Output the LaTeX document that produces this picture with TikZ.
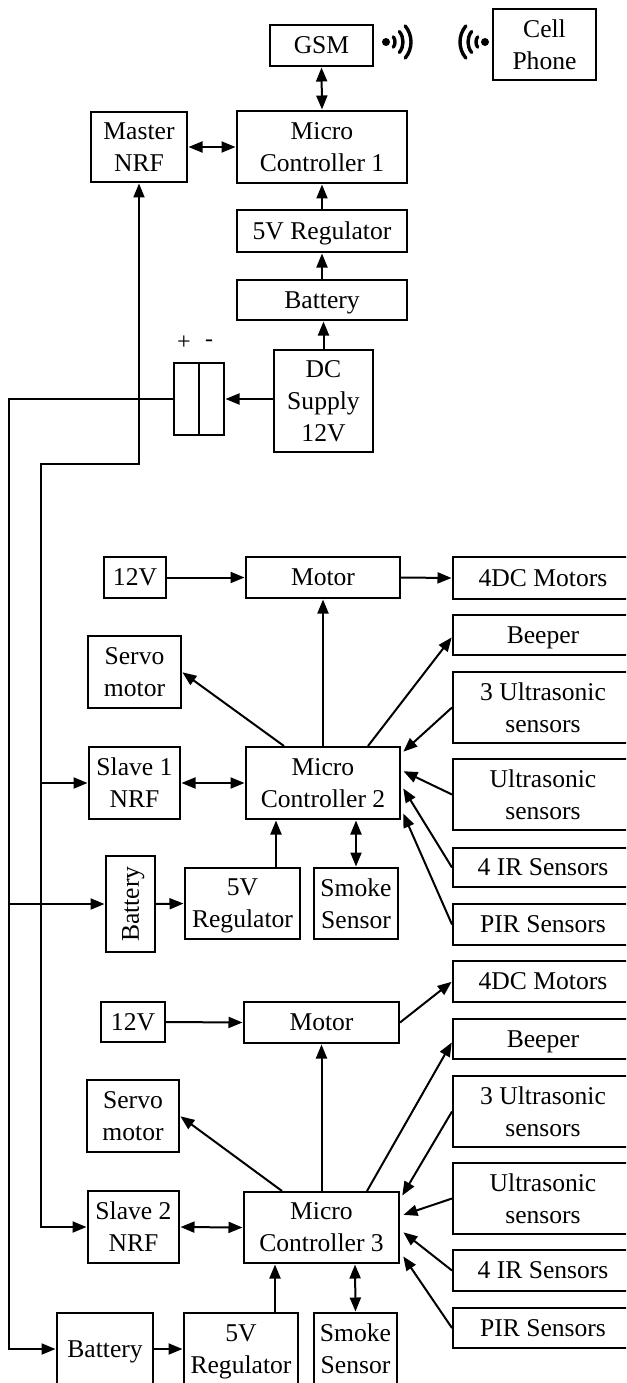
\documentclass[tikz,border=0pt]{standalone}
\usepackage{fontspec}
\setmainfont{Liberation Serif}
\usetikzlibrary{arrows.meta}

\begin{document}
\begin{tikzpicture}[
                x=1pt, y=-1pt,
                blockbox/.style={draw=black, line width=2pt, inner sep=0pt, align=center, text depth=0pt,
                    font=\fontsize{25.6}{32}\selectfont},
                sidebox/.style={blockbox, minimum width=180pt},
                wire/.style={line width=2pt},
                feed/.style={wire, -{Triangle[length=14pt, width=11pt]}, shorten >=0.5pt},
                link/.style={wire, {Triangle[length=14pt, width=11pt]}-{Triangle[length=14pt, width=11pt]}, shorten <=0.5pt, shorten >=0.5pt},
                wave/.style={line width=3.4pt, line cap=round},
                polarity/.style={font=\fontsize{24}{26}\selectfont, inner sep=0pt}
            ]
            \useasboundingbox (0, 0) rectangle (626, 1383);
            \clip (0, 0) rectangle (626, 1383);

            \node[blockbox, minimum width=103pt, minimum height=41pt] (gsm) at (321.5, 45.5) {GSM};
            \node[blockbox, minimum width=103pt, minimum height=71pt] (phone) at (544.5, 44.5) {Cell\\Phone};
            \node[blockbox, minimum width=96pt, minimum height=70pt] (master) at (139, 147) {Master\\NRF};
            \node[blockbox, minimum width=170pt, minimum height=72pt] (mcone) at (322, 147) {Micro\\Controller 1};
            \node[blockbox, minimum width=170pt, minimum height=42pt] (regone) at (322, 231) {5V Regulator};
            \node[blockbox, minimum width=170pt, minimum height=40pt] (batone) at (322, 300) {Battery};
            \node[blockbox, minimum width=99pt, minimum height=102pt] (dcsupply) at (323.5, 401) {DC\\Supply\\12V};
            \node[blockbox, minimum width=25pt, minimum height=72pt] (switchl) at (186.5, 399) {};
            \node[blockbox, minimum width=25pt, minimum height=72pt] (switchr) at (211.5, 399) {};
            \node[polarity] (plus) at (184, 343) {+};
            \node[polarity] (minus) at (209, 343) {-};

            \coordinate (wifil) at (386, 42);
            \coordinate (wifir) at (485, 42);
            \fill (wifil) circle (4pt);
            \fill (wifir) circle (4pt);
            \draw[wave] ([shift={(-35:9pt)}]wifil) arc (-35:35:9pt);
            \draw[wave] ([shift={(-38:17pt)}]wifil) arc (-38:38:17pt);
            \draw[wave] ([shift={(-40:25pt)}]wifil) arc (-40:40:25pt);
            \draw[wave] ([shift={(145:9pt)}]wifir) arc (145:215:9pt);
            \draw[wave] ([shift={(142:17pt)}]wifir) arc (142:218:17pt);
            \draw[wave] ([shift={(140:25pt)}]wifir) arc (140:220:25pt);

            \draw[link] (gsm.south) -- (mcone.north);
            \draw[link] (master.east) -- (mcone.west);
            \draw[feed] (regone.north) -- (mcone.south);
            \draw[feed] (batone.north) -- (regone.south);
            \draw[feed] (dcsupply.north) -- (dcsupply.north |- batone.south);
            \draw[feed] (dcsupply.west |- switchr.east) -- (switchr.east);

            \node[blockbox, minimum width=62pt, minimum height=41pt] (twelvetwo) at (135, 577.5) {12V};
            \node[blockbox, minimum width=154pt, minimum height=41pt] (motortwo) at (323, 577.5) {Motor};
            \node[blockbox, minimum width=93pt, minimum height=72pt] (servotwo) at (134.5, 672) {Servo\\motor};
            \node[blockbox, minimum width=91pt, minimum height=72pt] (slavetwo) at (134.5, 783) {Slave 1\\NRF};
            \node[blockbox, minimum width=154pt, minimum height=72pt] (mctwo) at (323, 783) {Micro\\Controller 2};
            \node[blockbox, rotate=90, minimum width=96pt, minimum height=49pt] (battwo) at (130.5, 904) {Battery};
            \node[blockbox, minimum width=115pt, minimum height=71pt] (regtwo) at (242.5, 903.5) {5V\\Regulator};
            \node[blockbox, minimum width=84pt, minimum height=71pt] (smoketwo) at (356, 903.5) {Smoke\\Sensor};
            \node[sidebox, minimum height=42pt] (dctwo) at (543, 578) {4DC Motors};
            \node[sidebox, minimum height=40pt] (beepertwo) at (543, 635) {Beeper};
            \node[sidebox, minimum height=71pt] (threetwo) at (543, 707.5) {3 Ultrasonic\\sensors};
            \node[sidebox, minimum height=71pt] (ultratwo) at (543, 794.5) {Ultrasonic\\sensors};
            \node[sidebox, minimum height=39pt] (irtwo) at (543, 867.5) {4 IR Sensors};
            \node[sidebox, minimum height=41pt] (pirtwo) at (543, 924.5) {PIR Sensors};

            \draw[feed] (twelvetwo.east) -- (motortwo.west);
            \draw[feed] (motortwo.east) -- (dctwo.west);
            \draw[feed] (mctwo.north) -- (motortwo.south);
            \draw[feed] ([xshift=-39pt]mctwo.north) -- (servotwo.east);
            \draw[feed] ([xshift=45pt]mctwo.north) -- ([yshift=-2pt]beepertwo.west);
            \draw[feed] (threetwo.west) -- ([xshift=2pt, yshift=31pt]mctwo.east);
            \draw[feed] (ultratwo.west) -- ([xshift=2pt, yshift=12pt]mctwo.east);
            \draw[feed] (irtwo.west) -- ([xshift=2pt, yshift=-5pt]mctwo.east);
            \draw[feed] (pirtwo.west) -- ([xshift=2pt, yshift=-30pt]mctwo.east);
            \draw[link] (slavetwo.east) -- (mctwo.west);
            \draw[feed] (battwo.south) -- (regtwo.west);
            \draw[feed] ([xshift=33.5pt]regtwo.north) -- ([xshift=-47pt]mctwo.south);
            \draw[link] (smoketwo.north) -- ([xshift=33pt]mctwo.south);

            \node[blockbox, minimum width=64pt, minimum height=40pt] (twelvethree) at (133, 1022) {12V};
            \node[blockbox, minimum width=155pt, minimum height=41pt] (motorthree) at (321.5, 1022.5) {Motor};
            \node[blockbox, minimum width=92pt, minimum height=72pt] (servothree) at (133, 1116) {Servo\\motor};
            \node[blockbox, minimum width=91pt, minimum height=72pt] (slavethree) at (133.5, 1227) {Slave 2\\NRF};
            \node[blockbox, minimum width=155pt, minimum height=71pt] (mcthree) at (321.5, 1227.5) {Micro\\Controller 3};
            \node[blockbox, minimum width=96pt, minimum height=72pt] (batthree) at (105, 1349) {Battery};
            \node[blockbox, minimum width=114pt, minimum height=72pt] (regthree) at (241, 1349) {5V\\Regulator};
            \node[blockbox, minimum width=83pt, minimum height=72pt] (smokethree) at (355.5, 1349) {Smoke\\Sensor};
            \node[sidebox, minimum height=41pt] (dcthree) at (543, 981.5) {4DC Motors};
            \node[sidebox, minimum height=40pt] (beeperthree) at (543, 1039) {Beeper};
            \node[sidebox, minimum height=71pt] (threethree) at (543, 1111.5) {3 Ultrasonic\\sensors};
            \node[sidebox, minimum height=71pt] (ultrathree) at (543, 1198.5) {Ultrasonic\\sensors};
            \node[sidebox, minimum height=41pt] (irthree) at (543, 1270.5) {4 IR Sensors};
            \node[sidebox, minimum height=40pt] (pirthree) at (543, 1328) {PIR Sensors};

            \draw[feed] (twelvethree.east) -- (motorthree.west);
            \draw[feed] (motorthree.east) -- (dcthree.west);
            \draw[feed] (mcthree.north) -- (motorthree.south);
            \draw[feed] ([xshift=-39.5pt]mcthree.north) -- (servothree.east);
            \draw[feed] ([xshift=45.5pt]mcthree.north) -- ([yshift=-3pt]beeperthree.west);
            \draw[feed] (threethree.west) -- ([xshift=2pt, yshift=31.5pt]mcthree.east);
            \draw[feed] (ultrathree.west) -- ([xshift=3pt, yshift=12.5pt]mcthree.east);
            \draw[feed] (irthree.west) -- ([xshift=3pt, yshift=-4.5pt]mcthree.east);
            \draw[feed] (pirthree.west) -- ([xshift=3pt, yshift=-28.5pt]mcthree.east);
            \draw[link] (slavethree.east) -- (mcthree.west);
            \draw[feed] (batthree.east) -- (regthree.west);
            \draw[feed] ([xshift=34pt]regthree.north) -- ([xshift=-46.5pt]mcthree.south);
            \draw[link] (smokethree.north) -- ([xshift=33.5pt]mcthree.south);

            \coordinate (railpower) at (9, 399);
            \coordinate (railradio) at (40.5, 464);
            \draw[feed] (switchl.west) -- (railpower) |- (batthree.west);
            \draw[feed] (railpower |- battwo.north) -- (battwo.north);
            \draw[link] (master.south) |- (railradio) |- (slavethree.west);
            \draw[feed] (railradio |- slavetwo.west) -- (slavetwo.west);

            \end{tikzpicture}
\end{document}
